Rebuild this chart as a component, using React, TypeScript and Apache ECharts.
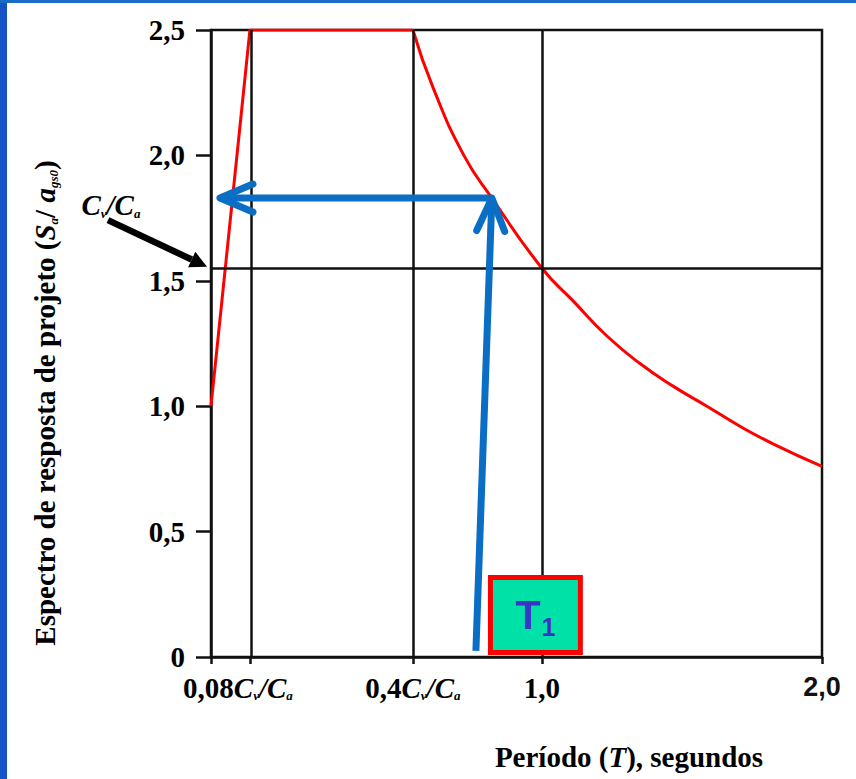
import React, { useEffect, useRef } from "react";
import * as echarts from "echarts";

// Period axis is schematic in the reference (not to scale); 1,0 and 2,0 are true seconds.
const periodTicks = [-0.182, -0.043, 0.539, 1.0, 2.0];
const periodTickLabels = ["", "0,08Cv/Ca", "0,4Cv/Ca", "1,0", "2,0"];
const saTicks = [0, 0.5, 1.0, 1.5, 2.0, 2.5];

const rampT = [-0.182, -0.043, 0.539];
const rampSa = [1.0, 2.5, 2.5];
const decayT = [0.539, 0.611, 0.721, 0.821, 1.0, 1.111, 1.232, 1.35, 1.468, 1.589, 1.707, 1.825, 2.0];
const decaySa = [2.5, 2.27, 2.0, 1.83, 1.55, 1.42, 1.28, 1.17, 1.08, 1.0, 0.92, 0.85, 0.76];

const cvOverCa = 1.55;
const t1Period = 0.821;
const t1Sa = 1.83;
const t1ArrowBase = [0.764, 0.024];
const horizArrowEndT = -0.15;
const cvLabelTail = [-0.55, 1.742];
const cvLabelTip = [-0.196, 1.556];
const t1Box = [0.807, 0.327, 1.146, 0.008];

const SERIF = "'Liberation Serif', 'Times New Roman', serif";
const SANS = "'Liberation Sans', Arial, sans-serif";
const NARROW = "'Liberation Sans Narrow', 'Liberation Sans', Arial, sans-serif";
const BLUE = "#0A6EC4";
const INK = "#111111";
const T1_INK = "#3535C8";

const richBase: any = {
  n: { fontFamily: SERIF, fontSize: 29, fontWeight: "bold", color: "#000", fill: "#000" },
  i: { fontFamily: SERIF, fontSize: 29, fontWeight: "bold", fontStyle: "italic", color: "#000", fill: "#000" },
  s: { fontFamily: SERIF, fontSize: 13, fontWeight: "bold", fontStyle: "italic", color: "#000", fill: "#000", verticalAlign: "bottom", padding: [12, 0, 0, 0] },
  sans: { fontFamily: NARROW, fontSize: 27, fontWeight: "bold", color: "#111", fill: "#111" },
  pad: { width: 24 },
};

function tickMarkup(label: string, idx: number): string {
  if (idx === periodTickLabels.length - 1) return `{sans|${label}}`;
  let m = label.replace(/C([va])/g, "{i|C}{s|$1}").replace(/^([\d,]+)/, "{n|$1}");
  m = m.replace(/\//g, "{i|/}");
  if (idx === 1) m += "{pad| }";
  return m;
}

export default function App() {
  const ref = useRef<HTMLDivElement>(null);
  useEffect(() => {
    if (!ref.current) return;
    const chart = echarts.init(ref.current, null, { renderer: "svg" });
    const option: any = {
      animation: false,
      backgroundColor: "#fff",
      grid: { left: 211, right: 34, top: 30, bottom: 122, show: true, borderColor: INK, borderWidth: 2.5, backgroundColor: "transparent" },
      xAxis: {
        type: "value",
        min: periodTicks[0],
        max: periodTicks[periodTicks.length - 1],
        splitLine: { show: false },
        axisLine: { show: true, onZero: false, lineStyle: { color: INK, width: 2.5 } },
        axisTick: { show: true, customValues: periodTicks, length: 7, inside: false, lineStyle: { color: INK, width: 2.5 } },
        axisLabel: {
          show: true,
          customValues: periodTicks.slice(1),
          margin: 16,
          fontFamily: SERIF,
          fontWeight: "bold",
          fontSize: 29,
          color: "#000",
          formatter: (v: number) => {
            const idx = periodTicks.findIndex((t) => Math.abs(t - v) < 1e-6);
            return idx < 0 ? "" : tickMarkup(periodTickLabels[idx], idx);
          },
          rich: richBase,
        },
      },
      yAxis: {
        type: "value",
        min: saTicks[0],
        max: saTicks[saTicks.length - 1],
        interval: 0.5,
        splitLine: { show: false },
        axisLine: { show: true, onZero: false, lineStyle: { color: INK, width: 2.5 } },
        axisTick: { show: true, length: 15, inside: false, lineStyle: { color: INK, width: 2.5 } },
        axisLabel: {
          margin: 26,
          fontFamily: SERIF,
          fontWeight: "bold",
          fontSize: 29,
          color: "#000",
          formatter: (v: number) => (v === 0 ? "0" : v.toFixed(1).replace(".", ",")),
        },
      },
      graphic: [
        {
          type: "text",
          x: 45,
          y: 403,
          rotation: Math.PI / 2,
          style: {
            text: "{n|Espectro de resposta de projeto (}{i|S}{s|a}{n|/ }{i|a}{s|gs0}{n|)}",
            font: `bold 29px ${SERIF}`,
            fill: "#000",
            align: "center",
            verticalAlign: "middle",
            rich: richBase,
          },
        },
        {
          type: "text",
          x: 629,
          y: 757,
          style: {
            text: "{n|Período (}{i|T}{n|), segundos}",
            font: `bold 29px ${SERIF}`,
            fill: "#000",
            align: "center",
            verticalAlign: "middle",
            rich: richBase,
          },
        },
      ],
      series: [
        {
          name: "linhas de referência",
          type: "line",
          data: [],
          z: 1,
          silent: true,
          markLine: {
            silent: true,
            symbol: ["none", "none"],
            label: { show: false },
            lineStyle: { color: INK, width: 2.5, type: "solid" },
            data: [
              { xAxis: periodTicks[1] },
              { xAxis: periodTicks[2] },
              { xAxis: periodTicks[3] },
              { yAxis: cvOverCa },
            ],
          },
        },
        {
          name: "espectro (ramo inicial)",
          type: "line",
          z: 3,
          data: rampT.map((t, i) => [t, rampSa[i]]),
          symbol: "none",
          lineStyle: { color: "#FF0000", width: 3 },
        },
        {
          name: "espectro (ramo descendente)",
          type: "line",
          z: 3,
          data: decayT.map((t, i) => [t, decaySa[i]]),
          symbol: "none",
          smooth: 0.5,
          lineStyle: { color: "#FF0000", width: 3 },
        },
        {
          name: "setas T1",
          type: "custom",
          z: 5,
          clip: false,
          data: [
            [t1ArrowBase[0], t1ArrowBase[1], t1Period, t1Sa],
            [t1Period, t1Sa, horizArrowEndT, t1Sa],
          ],
          renderItem: (_p: any, api: any) => {
            const p1 = api.coord([api.value(0), api.value(1)]);
            const p2 = api.coord([api.value(2), api.value(3)]);
            const dx = p2[0] - p1[0];
            const dy = p2[1] - p1[1];
            const L = Math.hypot(dx, dy);
            const ux = dx / L, uy = dy / L;
            const nx = -uy, ny = ux;
            const back = 33, spread = 14;
            const a1 = [p2[0] - ux * back + nx * spread, p2[1] - uy * back + ny * spread];
            const a2 = [p2[0] - ux * back - nx * spread, p2[1] - uy * back - ny * spread];
            return {
              type: "group",
              children: [
                { type: "line", shape: { x1: p1[0], y1: p1[1], x2: p2[0] - ux * 3, y2: p2[1] - uy * 3 }, style: { stroke: BLUE, lineWidth: 7, lineCap: "butt" } },
                { type: "polyline", shape: { points: [a1, p2, a2] }, style: { stroke: BLUE, lineWidth: 7, fill: "none", lineCap: "round", lineJoin: "round" } },
              ],
            };
          },
        },
        {
          name: "Cv/Ca",
          type: "custom",
          z: 5,
          clip: false,
          data: [[cvLabelTail[0], cvLabelTail[1], cvLabelTip[0], cvLabelTip[1]]],
          renderItem: (_p: any, api: any) => {
            const p1 = api.coord([api.value(0), api.value(1)]);
            const p2 = api.coord([api.value(2), api.value(3)]);
            const dx = p2[0] - p1[0];
            const dy = p2[1] - p1[1];
            const L = Math.hypot(dx, dy);
            const ux = dx / L, uy = dy / L;
            const nx = -uy, ny = ux;
            const head = 17, half = 8.5;
            const base = [p2[0] - ux * head, p2[1] - uy * head];
            return {
              type: "group",
              children: [
                { type: "line", shape: { x1: p1[0], y1: p1[1], x2: base[0], y2: base[1] }, style: { stroke: "#000", lineWidth: 6.5, lineCap: "butt" } },
                { type: "polygon", shape: { points: [p2, [base[0] + nx * half, base[1] + ny * half], [base[0] - nx * half, base[1] - ny * half]] }, style: { fill: "#000" } },
                {
                  type: "text",
                  x: p1[0] + 3,
                  y: p1[1] - 15,
                  style: {
                    text: "{i|C}{s|v}{i|/C}{s|a}",
                    fill: "#000",
                    rich: richBase,
                    align: "center",
                    verticalAlign: "middle",
                  },
                },
              ],
            };
          },
        },
        {
          name: "T1",
          type: "custom",
          z: 6,
          clip: false,
          data: [t1Box],
          renderItem: (_p: any, api: any) => {
            const a = api.coord([api.value(0), api.value(1)]);
            const b = api.coord([api.value(2), api.value(3)]);
            const bw = 5;
            const x = Math.min(a[0], b[0]) + bw / 2;
            const y = Math.min(a[1], b[1]) + bw / 2;
            const w = Math.abs(b[0] - a[0]) - bw;
            const h = Math.abs(b[1] - a[1]) - bw;
            return {
              type: "group",
              children: [
                { type: "rect", shape: { x, y, width: w, height: h }, style: { fill: "#00E1A8", stroke: "#FF0000", lineWidth: bw } },
                {
                  type: "text",
                  x: x + w / 2,
                  y: y + h / 2,
                  style: {
                    text: "{t|T}{u|1}",
                    fill: T1_INK,
                    align: "center",
                    verticalAlign: "middle",
                    rich: {
                      t: { fontFamily: SANS, fontWeight: "bold", fontSize: 41, color: T1_INK, fill: T1_INK },
                      u: { fontFamily: SANS, fontWeight: "bold", fontSize: 25, color: T1_INK, fill: T1_INK, verticalAlign: "bottom", padding: [24, 0, 0, 1] },
                    },
                  },
                },
              ],
            };
          },
        },
      ],
    };
    chart.setOption(option);
    return () => chart.dispose();
  }, []);

  return (
    <div style={{ position: "fixed", left: 0, top: 0, width: 856, height: 779, background: "#fff" }}>
      <div ref={ref} style={{ position: "absolute", left: 0, top: 0, width: 856, height: 779 }} />
      <div style={{ position: "absolute", left: 0, top: 0, width: 7, height: 779, background: "#1452C6" }} />
      <div style={{ position: "absolute", left: 0, top: 0, width: 856, height: 3, background: "#1A6BC8" }} />
    </div>
  );
}
